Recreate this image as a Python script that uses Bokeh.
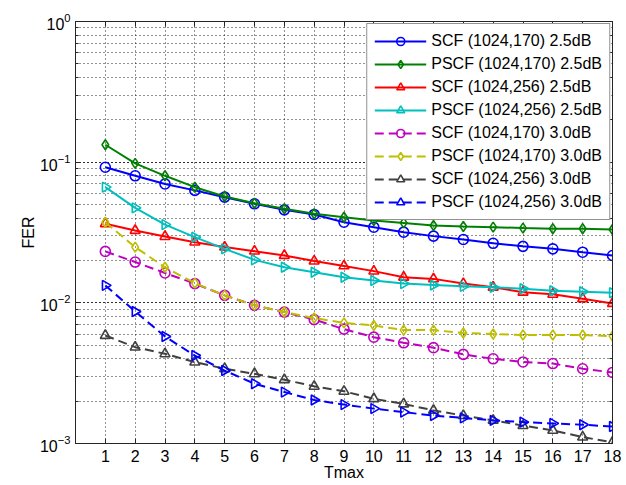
import math
from bokeh.plotting import figure
from bokeh.models import (Range1d, FixedTicker, LinearAxis, LogAxis, Legend, LegendItem,
                          LogTicker, ColumnDataSource)
from bokeh.embed import file_html
from bokeh.resources import INLINE

tmax = list(range(1, 19))

scf170_25 = [0.092, 0.080, 0.070, 0.063, 0.0564, 0.0506, 0.0458, 0.0425, 0.0374, 0.0345,
             0.0318, 0.0298, 0.0282, 0.0265, 0.0252, 0.0242, 0.0229, 0.0217]
pscf170_25 = [0.133, 0.098, 0.080, 0.0664, 0.057, 0.051, 0.0466, 0.043, 0.0406, 0.0385,
              0.037, 0.0355, 0.0349, 0.0345, 0.034, 0.0336, 0.0336, 0.0332]
scf256_25 = [0.0365, 0.0327, 0.0296, 0.027, 0.0249, 0.0233, 0.0217, 0.0198, 0.0183, 0.0168,
             0.0152, 0.0148, 0.0137, 0.0129, 0.0119, 0.0115, 0.0107, 0.0099]
pscf256_25 = [0.0664, 0.0473, 0.036, 0.0293, 0.0242, 0.0202, 0.0179, 0.0165, 0.0152, 0.0144,
              0.0137, 0.0134, 0.0131, 0.0129, 0.0126, 0.0122, 0.012, 0.0118]
scf170_30 = [0.0232, 0.0195, 0.0163, 0.0137, 0.0113, 0.0096, 0.0086, 0.0076, 0.0065, 0.0057,
             0.0052, 0.0048, 0.0043, 0.0040, 0.0038, 0.0037, 0.0034, 0.0032]
pscf170_30 = [0.0374, 0.0249, 0.0179, 0.0138, 0.0113, 0.0096, 0.0086, 0.0078, 0.0072, 0.0069,
              0.0064, 0.0064, 0.0061, 0.0060, 0.0059, 0.0059, 0.0059, 0.0058]
scf256_30 = [0.00586, 0.00484, 0.00434, 0.00379, 0.0034, 0.00313, 0.00284, 0.00255, 0.00235,
             0.00208, 0.00191, 0.00172, 0.00158, 0.00146, 0.00134, 0.00124, 0.00111, 0.00102]
pscf256_30 = [0.0133, 0.00868, 0.00576, 0.00422, 0.0033, 0.00266, 0.00232, 0.00204, 0.00189,
              0.00177, 0.00167, 0.00158, 0.00152, 0.00146, 0.00142, 0.00139, 0.00136, 0.00132]

labels = ["SCF (1024,170) 2.5dB", "PSCF (1024,170) 2.5dB", "SCF (1024,256) 2.5dB",
          "PSCF (1024,256) 2.5dB", "SCF (1024,170) 3.0dB", "PSCF (1024,170) 3.0dB",
          "SCF (1024,256) 3.0dB", "PSCF (1024,256) 3.0dB"]
series = [scf170_25, pscf170_25, scf256_25, pscf256_25, scf170_30, pscf170_30, scf256_30, pscf256_30]
colors = ["#0000FF", "#008000", "#FF0000", "#00BFBF", "#BF00BF", "#BFBF00", "#404040", "#0000FF"]
markers = ["circle", "diamond", "triangle", "triangle", "circle", "diamond", "triangle", "triangle"]
angles = [0, 0, 0, -90, 0, 0, 0, -90]
dashes = ["solid"] * 4 + ["9 5"] * 4

FONT = "Liberation Sans"

p = figure(width=626, height=485, y_axis_type="log", output_backend="svg", toolbar_location=None,
           x_range=Range1d(0, 18), y_range=Range1d(1e-3, 1),
           min_border_left=75, min_border_right=14, min_border_top=21, min_border_bottom=42)
p.background_fill_color = "white"
p.border_fill_color = "white"
p.outline_line_color = "#262626"
p.outline_line_width = 1

# grid
p.xaxis.ticker = FixedTicker(ticks=tmax)
p.xgrid.ticker = FixedTicker(ticks=tmax)
for g in (p.xgrid, p.ygrid):
    g.grid_line_color = "black"
    g.grid_line_dash = "1 3"
    g.grid_line_width = 1
    g.grid_line_alpha = 0.85
p.ygrid.minor_grid_line_color = "black"
p.ygrid.minor_grid_line_dash = "1 3"
p.ygrid.minor_grid_line_width = 1
p.ygrid.minor_grid_line_alpha = 0.85

def style_axis(ax, show_labels=True):
    ax.axis_line_color = "#262626"
    ax.major_tick_in = 5
    ax.major_tick_out = 0
    ax.minor_tick_in = 3
    ax.minor_tick_out = 0
    ax.major_tick_line_color = "#262626"
    ax.minor_tick_line_color = "#262626"
    ax.major_label_text_font = FONT
    ax.major_label_text_font_size = "16px" if show_labels else "1px"
    ax.major_label_text_color = "black" if show_labels else None
    ax.axis_label_text_font = FONT
    ax.axis_label_text_font_size = "16px"
    ax.axis_label_text_font_style = "normal"
    ax.axis_label_text_color = "black"

xa = p.xaxis[0]
ya = p.yaxis[0]
style_axis(xa)
style_axis(ya)
xa.minor_tick_line_color = None
xa.axis_label = "Tmax"
xa.major_label_standoff = 6
xa.axis_label_standoff = -1
ya.axis_label = "FER"
ya.major_label_standoff = 5
ya.axis_label_standoff = 0

top = LinearAxis(ticker=FixedTicker(ticks=tmax))
style_axis(top, False)
top.minor_tick_line_color = None
top.major_label_standoff = 0
p.add_layout(top, "above")
right = LogAxis(ticker=LogTicker())
style_axis(right, False)
right.major_label_standoff = 0
p.add_layout(right, "right")

items = []
for lab, ys, col, mk, ang, dsh in zip(labels, series, colors, markers, angles, dashes):
    src = ColumnDataSource(dict(x=tmax, y=ys, ang=[ang] * len(tmax)))
    ln = p.line("x", "y", source=src, line_color=col, line_width=2, line_dash=dsh)
    sc = p.scatter("x", "y", source=src, marker=mk, size=10, angle="ang", angle_units="deg",
                   line_color=col, line_width=1.6, fill_color=None)
    items.append(LegendItem(label=lab, renderers=[ln, sc]))

legend = Legend(items=items, location="top_right")
legend.label_text_font = FONT
legend.label_text_font_size = "16px"
legend.label_text_color = "black"
legend.border_line_color = "#262626"
legend.border_line_width = 1
legend.background_fill_color = "white"
legend.background_fill_alpha = 1
legend.padding = 7
legend.margin = 2
legend.spacing = 3
legend.glyph_width = 52
legend.glyph_height = 20
legend.label_height = 20
legend.label_standoff = 5
p.add_layout(legend, "center")

open("out.html", "w").write(file_html(p, INLINE))
